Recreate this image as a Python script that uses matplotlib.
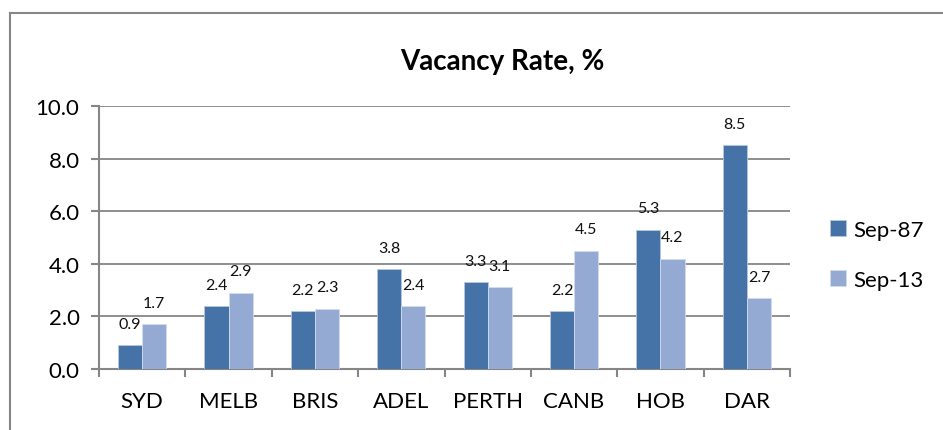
import matplotlib
matplotlib.use("Agg")
import matplotlib.pyplot as plt
import numpy as np
from matplotlib.lines import Line2D

plt.rcParams['font.family'] = ['Lato', 'DejaVu Sans']

categories = ["SYD", "MELB", "BRIS", "ADEL", "PERTH", "CANB", "HOB", "DAR"]
sep87 = [0.9, 2.4, 2.2, 3.8, 3.3, 2.2, 5.3, 8.5]
sep13 = [1.7, 2.9, 2.3, 2.4, 3.1, 4.5, 4.2, 2.7]
series_names = ["Sep-87", "Sep-13"]
yticks = [0.0, 2.0, 4.0, 6.0, 8.0, 10.0]

W, H = 943, 431
fig = plt.figure(figsize=(W / 100, H / 100), dpi=100)
ax = fig.add_axes([99 / W, 1 - 370 / H, (790 - 99) / W, (370 - 107) / H])

grid_c = "#868686"
dark = "#4572A7"
light = "#95AAD3"

x = np.arange(len(categories))
bw = 0.28
b1 = ax.bar(x - bw / 2, sep87, bw, color=dark, edgecolor="#b8c7df", linewidth=0.6, label=series_names[0], zorder=3)
b2 = ax.bar(x + bw / 2, sep13, bw, color=light, edgecolor="#d2dcee", linewidth=0.6, label=series_names[1], zorder=3)

for bars, vals in ((b1, sep87), (b2, sep13)):
    for rect, v in zip(bars, vals):
        ax.annotate(f"{v:.1f}", (rect.get_x() + rect.get_width() / 2, v),
                    xytext=(0, 12.5), textcoords="offset points",
                    ha="center", va="baseline", fontsize=11.5, color="#111111", zorder=4)

ax.set_xlim(-0.5, len(categories) - 0.5)
ax.set_ylim(0, 10)
ax.set_yticks(yticks)
ax.set_yticklabels([f"{t:.1f}" for t in yticks])
ax.set_xticks(x)
ax.set_xticklabels(categories)
ax.set_xticks(np.arange(-0.5, len(categories)), minor=True)
ax.tick_params(axis="x", which="major", length=0, pad=16, labelsize=16)
ax.tick_params(axis="x", which="minor", length=6, width=1.5, color=grid_c, direction="out")
ax.tick_params(axis="y", length=6, width=1.5, color=grid_c, direction="out", pad=8, labelsize=16)
ax.yaxis.grid(True, color=grid_c, linewidth=1.3, zorder=0)
ax.set_axisbelow(True)
for s in ("top", "right"):
    ax.spines[s].set_visible(False)
for s in ("left", "bottom"):
    ax.spines[s].set_color(grid_c)
    ax.spines[s].set_linewidth(1.5)

fig.text(502 / W, 1 - 70 / H, "Vacancy Rate, %", ha="center", va="baseline",
         fontsize=20, fontweight="bold", color="#000000")

leg = fig.legend(handles=[b1, b2], labels=series_names, loc="center left",
                 bbox_to_anchor=(830 / W, 1 - 256 / H), frameon=False,
                 fontsize=16, handlelength=0.7, handleheight=0.7,
                 handletextpad=0.35, labelspacing=1.35, borderpad=0, borderaxespad=0)

# outer chart frame (top and left visible; right/bottom cut off)
fig.add_artist(Line2D([9.5 / W, 1.0], [1 - 13.5 / H, 1 - 13.5 / H], color=grid_c, linewidth=1.5, transform=fig.transFigure))
fig.add_artist(Line2D([9.5 / W, 9.5 / W], [0.0, 1 - 13.5 / H], color=grid_c, linewidth=1.5, transform=fig.transFigure))

fig.savefig("out.png", dpi=100)
